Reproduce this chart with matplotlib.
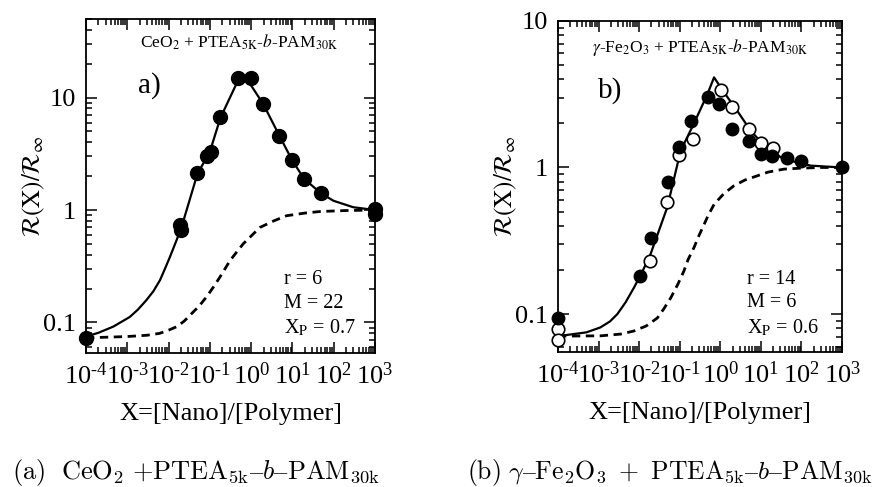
import matplotlib
matplotlib.use("Agg")
import matplotlib.pyplot as plt
import numpy as np
from matplotlib.ticker import LogLocator, NullFormatter, FixedLocator, FixedFormatter

plt.rcParams['font.family'] = 'Liberation Serif'
plt.rcParams['mathtext.fontset'] = 'stix'

# ---- panel a: CeO2 + PTEA5K-b-PAM30K ----
xa_pts = [1e-4, 0.019, 0.02, 0.05, 0.083, 0.105, 0.18, 0.49, 0.97, 1.95, 4.8, 9.7, 19, 48, 1000, 1000]
ya_pts = [0.073, 0.74, 0.66, 2.12, 3.0, 3.25, 6.76, 14.8, 15.0, 8.7, 4.56, 2.78, 1.89, 1.41, 1.02, 0.93]

xa_fit = [1e-4, 2e-4, 4.6e-4, 1.15e-3, 1.8e-3, 2.9e-3, 4.3e-3, 6.2e-3, 8e-3, 0.0107, 0.015, 0.02, 0.05, 0.1,
          0.18, 0.45, 0.71, 1.95, 4.8, 9.7, 19, 48, 98, 295, 1000]
ya_fit = [0.075, 0.081, 0.092, 0.112, 0.13, 0.158, 0.19, 0.238, 0.295, 0.38, 0.52, 0.68, 2.1, 3.3,
          6.6, 13.5, 15.5, 8.8, 4.6, 2.8, 1.9, 1.42, 1.21, 1.06, 1.0]

xa_dash = [1e-4, 1e-3, 3e-3, 6e-3, 9e-3, 0.016, 0.024, 0.033, 0.055, 0.083, 0.12, 0.176, 0.31, 0.64, 1.63,
           3.5, 7.2, 20, 46, 200, 1000]
ya_dash = [0.073, 0.075, 0.077, 0.080, 0.084, 0.092, 0.103, 0.116, 0.14, 0.169, 0.205, 0.254, 0.357, 0.50, 0.70,
           0.80, 0.89, 0.94, 0.97, 0.99, 1.0]

# ---- panel b: gamma-Fe2O3 + PTEA5K-b-PAM30K ----
xb_full = [1e-4, 0.0105, 0.020, 0.05, 0.095, 0.19, 0.49, 0.92, 1.97, 5.0, 9.8, 19, 45, 95, 1000]
yb_full = [0.094, 0.182, 0.332, 0.80, 1.37, 2.08, 3.05, 2.71, 1.83, 1.52, 1.23, 1.20, 1.17, 1.10, 1.0]

xb_open = [1e-4, 1e-4, 0.019, 0.049, 0.097, 0.21, 1.02, 1.97, 5.0, 10.2, 20]
yb_open = [0.0785, 0.066, 0.23, 0.58, 1.21, 1.56, 3.38, 2.57, 1.83, 1.46, 1.36]

xb_fit = [1e-4, 5e-4, 1.1e-3, 1.9e-3, 2.9e-3, 4.6e-3, 7.4e-3, 0.012, 0.019, 0.049, 0.105, 0.224, 0.48, 0.70,
          1.23, 2.6, 5.6, 14.4, 37, 167, 1000]
yb_fit = [0.0707, 0.075, 0.081, 0.089, 0.10, 0.12, 0.151, 0.195, 0.256, 0.533, 1.30, 2.0, 3.16, 4.12,
          3.26, 2.44, 1.78, 1.34, 1.14, 1.03, 1.0]

xb_dash = [1e-4, 1.1e-3, 3.5e-3, 7.4e-3, 0.015, 0.028, 0.04, 0.060, 0.09, 0.127, 0.16, 0.224, 0.3, 0.40, 0.5,
           0.70, 1.2, 2.16, 4, 8.1, 15, 37, 100, 300, 1000]
yb_dash = [0.0707, 0.071, 0.073, 0.0766, 0.083, 0.094, 0.108, 0.129, 0.16, 0.197, 0.235, 0.284, 0.345, 0.41, 0.47,
           0.56, 0.66, 0.75, 0.82, 0.877, 0.93, 0.975, 0.99, 1.0, 1.0]

x_ticks = [1e-4, 1e-3, 1e-2, 1e-1, 1e0, 1e1, 1e2, 1e3]
x_ticklabels = ['$\\mathregular{10^{\u20104}}$', '$\\mathregular{10^{\u20103}}$', '$\\mathregular{10^{\u20102}}$',
                '$\\mathregular{10^{\u20101}}$', r'$\mathregular{10^{0}}$', r'$\mathregular{10^{1}}$',
                r'$\mathregular{10^{2}}$', r'$\mathregular{10^{3}}$']
y_ticks = [0.1, 1, 10]
y_ticklabels = ['0.1', '1', '10']


def style_axes(ax, ylim):
    ax.set_xscale('log')
    ax.set_yscale('log')
    ax.set_xlim(1e-4, 1e3)
    ax.set_ylim(*ylim)
    ax.xaxis.set_major_locator(FixedLocator(x_ticks))
    ax.xaxis.set_major_formatter(FixedFormatter(x_ticklabels))
    ax.yaxis.set_major_locator(FixedLocator(y_ticks))
    ax.yaxis.set_major_formatter(FixedFormatter(y_ticklabels))
    ax.xaxis.set_minor_locator(LogLocator(base=10, subs=np.arange(2, 10), numticks=20))
    ax.yaxis.set_minor_locator(LogLocator(base=10, subs=np.arange(2, 10), numticks=20))
    ax.xaxis.set_minor_formatter(NullFormatter())
    ax.yaxis.set_minor_formatter(NullFormatter())
    ax.tick_params(which='both', direction='in', top=True, right=True, width=1.1)
    ax.tick_params(which='major', length=8, labelsize=19)
    ax.tick_params(which='minor', length=4)
    ax.tick_params(axis='x', pad=7)
    ax.tick_params(axis='y', pad=7)
    for s in ax.spines.values():
        s.set_linewidth(1.3)
    ax.set_xlabel('X=[Nano]/[Polymer]', fontsize=19, labelpad=10)
    ax.set_ylabel(r'$\mathcal{R}(\mathrm{X})/\mathcal{R}_{\infty}$', fontsize=18, labelpad=-3)


fig = plt.figure(figsize=(8.82, 4.87), dpi=100)

ax1 = fig.add_axes([0.0975, 0.276, 0.3277, 0.685])
ax1.plot(xa_fit, ya_fit, '-', color='black', lw=1.6, zorder=2)
ax1.plot(xa_dash, ya_dash, '--', color='black', lw=2, dashes=(3, 2), zorder=2)
ax1.plot(xa_pts, ya_pts, 'o', color='black', ms=10, zorder=3, clip_on=False)
style_axes(ax1, (0.054, 50))
ax1.text(0.53, 0.93, r'CeO$_2$ + PTEA$_{\mathrm{5K}}$-$b$-PAM$_{\mathrm{30K}}$',
         transform=ax1.transAxes, ha='center', va='center', fontsize=12.5)
ax1.text(0.22, 0.80, 'a)', transform=ax1.transAxes, ha='center', va='center', fontsize=21)
ax1.text(0.685, 0.145, 'r = 6\nM = 22\nX$_{\\mathrm{P}}$ = 0.7', transform=ax1.transAxes,
         ha='left', va='center', fontsize=14.5, linespacing=1.3)

ax2 = fig.add_axes([0.6327, 0.277, 0.3220, 0.680])
ax2.plot(xb_fit, yb_fit, '-', color='black', lw=1.6, zorder=2)
ax2.plot(xb_dash, yb_dash, '--', color='black', lw=2, dashes=(3, 2), zorder=2)
ax2.plot(xb_open, yb_open, 'o', mfc='white', mec='black', mew=1.2, ms=9, zorder=3, clip_on=False)
ax2.plot(xb_full, yb_full, 'o', color='black', ms=9, zorder=4, clip_on=False)
style_axes(ax2, (0.055, 10))
ax2.text(0.5, 0.92, r'$\gamma$-Fe$_2$O$_3$ + PTEA$_{\mathrm{5K}}$-$b$-PAM$_{\mathrm{30K}}$',
         transform=ax2.transAxes, ha='center', va='center', fontsize=12.5)
ax2.text(0.185, 0.79, 'b)', transform=ax2.transAxes, ha='center', va='center', fontsize=21)
ax2.text(0.665, 0.145, 'r = 14\nM = 6\nX$_{\\mathrm{P}}$ = 0.6', transform=ax2.transAxes,
         ha='left', va='center', fontsize=14.5, linespacing=1.3)

cap_a = '$\\mathrm{(a)\\ \\ CeO_2\\ {+}PTEA_{5k}\u2013}b\\mathrm{\u2013PAM_{30k}}$'
cap_b = '$\\mathrm{(b)\\ }\\gamma\\mathrm{\u2013Fe_2O_3\\ +\\ PTEA_{5k}\u2013}b\\mathrm{\u2013PAM_{30k}}$'
fig.text(0.014, 0.016, cap_a, math_fontfamily='cm', fontsize=19, ha='left', va='baseline')
fig.text(0.529, 0.016, cap_b, math_fontfamily='cm', fontsize=18.5, ha='left', va='baseline')

fig.savefig('out.png', dpi=100)
